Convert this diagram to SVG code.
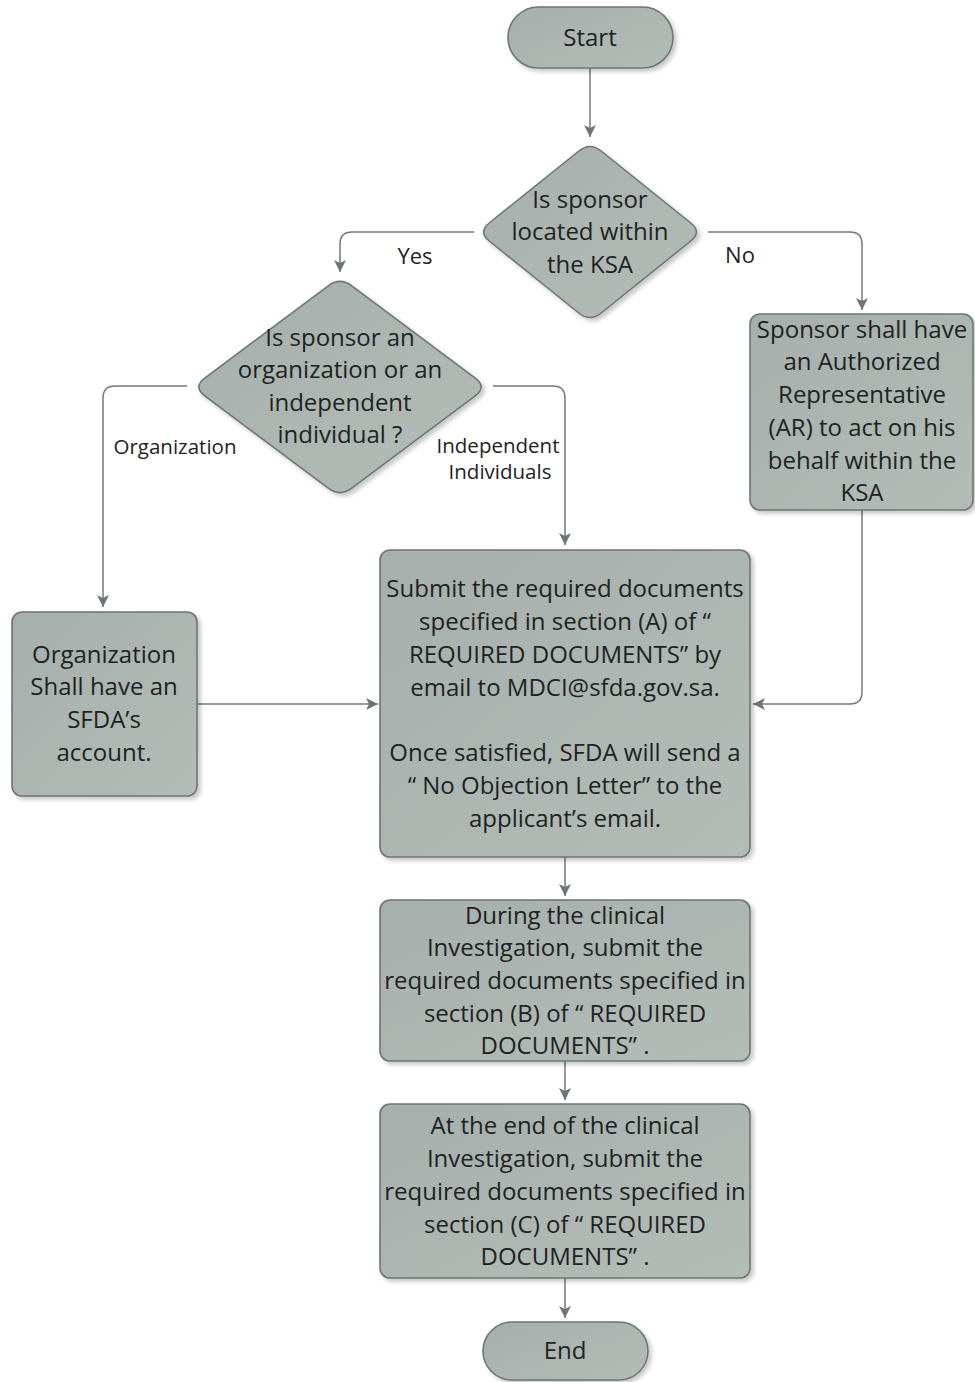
<svg xmlns="http://www.w3.org/2000/svg" width="975" height="1382" viewBox="0 0 975 1382">
<defs>
<linearGradient id="g" x1="0" y1="0" x2="1" y2="1">
<stop offset="0" stop-color="#a6afab"/>
<stop offset="1" stop-color="#b4bcb8"/>
</linearGradient>
<filter id="sh" x="-10%" y="-10%" width="125%" height="125%">
<feDropShadow dx="3" dy="3" stdDeviation="2" flood-color="#000" flood-opacity="0.22"/>
</filter>
<marker id="ah" viewBox="0 0 12 12" refX="12" refY="6" markerWidth="12" markerHeight="12" markerUnits="userSpaceOnUse" orient="auto">
<path d="M0,0 L12,6 L0,12 L3,6 Z" fill="#6f7573"/>
</marker>
</defs>
<style>
.n{fill:url(#g);stroke:#6e7672;stroke-width:1.6;filter:url(#sh)}
.t{font-family:"Open Sans",Lato,"Liberation Sans",sans-serif;font-size:24px;fill:#1e2322;text-anchor:middle}
.l{font-family:"Open Sans",Lato,"Liberation Sans",sans-serif;font-size:20.5px;fill:#1e2322;text-anchor:middle}
.c{fill:none;stroke:#737977;stroke-width:1.5;marker-end:url(#ah)}
</style>
<rect width="975" height="1382" fill="#fff"/>
<g id="connectors">
<path class="c" d="M590,68 V137"/>
<path class="c" d="M474,232 H352 Q340,232 340,244 V272"/>
<path class="c" d="M708,232 H850 Q862,232 862,244 V310"/>
<path class="c" d="M187,386 H115 Q103,386 103,398 V607"/>
<path class="c" d="M493,386 H553 Q565,386 565,398 V545"/>
<path class="c" d="M862,510 V692 Q862,704 850,704 H753"/>
<path class="c" d="M197,704 H378"/>
<path class="c" d="M565,857 V896"/>
<path class="c" d="M565,1061 V1100"/>
<path class="c" d="M565,1278 V1318"/>
<text class="l" x="415" y="264" style="font-size:22px">Yes</text>
<text class="l" x="740" y="263" style="font-size:22px">No</text>
<text class="l" x="175" y="454">Organization</text>
<text class="l" x="498" y="453">Independent</text>
<text class="l" x="500" y="479">Individuals</text>
</g>
<g id="start">
<rect class="n" x="508" y="7" width="165" height="61" rx="30.5"/>
<text class="t" x="590" y="46">Start</text>
</g>
<g id="decision1">
<path class="n" d="M578.8,151 Q590,142 601.2,151 L690.8,223 Q702,232 690.8,241 L601.2,313 Q590,322 578.8,313 L489.2,241 Q478,232 489.2,223 Z"/>
<text class="t" x="590" y="208">Is sponsor</text>
<text class="t" x="590" y="240">located within</text>
<text class="t" x="590" y="273">the KSA</text>
</g>
<g id="decision2">
<path class="n" d="M328.24,285.8 Q340,277 351.76,285.8 L475.24,378.2 Q487,387 475.24,395.8 L351.76,488.2 Q340,497 328.24,488.2 L204.76,395.8 Q193,387 204.76,378.2 Z"/>
<text class="t" x="340" y="346">Is sponsor an</text>
<text class="t" x="340" y="378">organization or an</text>
<text class="t" x="340" y="411">independent</text>
<text class="t" x="340" y="443">individual ?</text>
</g>
<g id="ar">
<rect class="n" x="750" y="314" width="223" height="196" rx="10"/>
<text class="t" x="862" y="338">Sponsor shall have</text>
<text class="t" x="862" y="370">an Authorized</text>
<text class="t" x="862" y="403">Representative</text>
<text class="t" x="862" y="436">(AR) to act on his</text>
<text class="t" x="862" y="469">behalf within the</text>
<text class="t" x="862" y="501">KSA</text>
</g>
<g id="org">
<rect class="n" x="12" y="612" width="185" height="184" rx="10"/>
<text class="t" x="104" y="663">Organization</text>
<text class="t" x="104" y="695">Shall have an</text>
<text class="t" x="104" y="728">SFDA’s</text>
<text class="t" x="104" y="761">account.</text>
</g>
<g id="stepA">
<rect class="n" x="380" y="550" width="370" height="307" rx="10"/>
<text class="t" x="565" y="597">Submit the required documents</text>
<text class="t" x="565" y="630">specified in section (A) of “</text>
<text class="t" x="565" y="663">REQUIRED DOCUMENTS” by</text>
<text class="t" x="565" y="696">email to MDCI@sfda.gov.sa.</text>
<text class="t" x="565" y="761">Once satisfied, SFDA will send a</text>
<text class="t" x="565" y="794">“ No Objection Letter” to the</text>
<text class="t" x="565" y="827">applicant’s email.</text>
</g>
<g id="stepB">
<rect class="n" x="380" y="900" width="370" height="161" rx="10"/>
<text class="t" x="565" y="924">During the clinical</text>
<text class="t" x="565" y="956">Investigation, submit the</text>
<text class="t" x="565" y="989">required documents specified in</text>
<text class="t" x="565" y="1022">section (B) of “ REQUIRED</text>
<text class="t" x="565" y="1054">DOCUMENTS” .</text>
</g>
<g id="stepC">
<rect class="n" x="380" y="1104" width="370" height="174" rx="10"/>
<text class="t" x="565" y="1134">At the end of the clinical</text>
<text class="t" x="565" y="1167">Investigation, submit the</text>
<text class="t" x="565" y="1200">required documents specified in</text>
<text class="t" x="565" y="1233">section (C) of “ REQUIRED</text>
<text class="t" x="565" y="1265">DOCUMENTS” .</text>
</g>
<g id="end">
<rect class="n" x="483" y="1322" width="165" height="58" rx="29"/>
<text class="t" x="565" y="1359">End</text>
</g>
</svg>
